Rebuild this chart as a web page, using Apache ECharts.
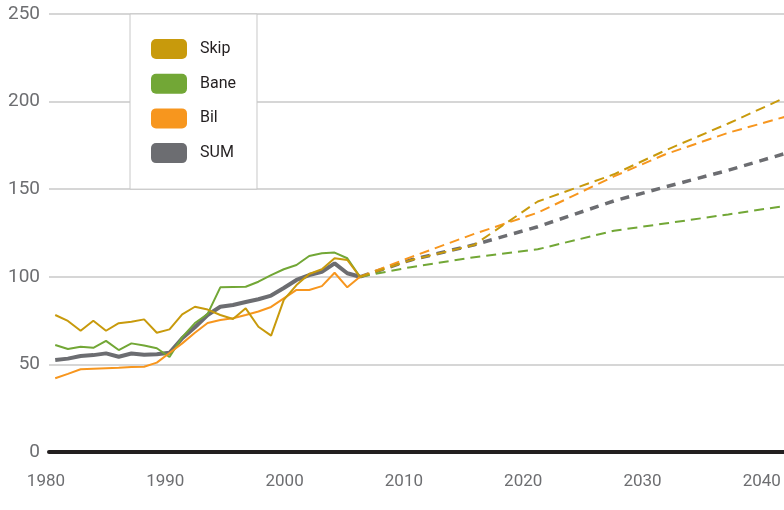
<!DOCTYPE html>
<html>
<head>
<meta charset="utf-8">
<script src="https://cdn.jsdelivr.net/npm/echarts@6/dist/echarts.min.js"></script>
<style>
  html, body { margin: 0; padding: 0; background: #fff; }
  #chart { width: 784px; height: 510px; }
</style>
</head>
<body>
<div id="chart"></div>
<script>
const SERIES_NAMES = ["Skip", "Bane", "Bil", "SUM"];
const COLORS = { Skip: "#c89a0c", Bane: "#72a736", Bil: "#f7961e", SUM: "#6c6d71" };

const HIST_YEARS = [1982, 1983, 1984, 1985, 1986, 1987, 1988, 1989, 1990, 1991, 1992, 1993, 1994,
  1995, 1996, 1997, 1998, 1999, 2000, 2001, 2002, 2003, 2004, 2005, 2006];
const SKIP_HIST = [78.2, 74.8, 69.2, 74.9, 69.2, 73.5, 74.4, 75.7, 68.1, 70.0, 78.6, 82.9, 81.3,
  78.2, 75.9, 82.0, 71.5, 66.4, 86.8, 95.3, 101.6, 104.3, 110.6, 109.6, 100];
const BANE_HIST = [61.1, 58.8, 60.1, 59.5, 63.4, 58.2, 62.0, 60.8, 59.2, 54.2, 65.6, 73.6, 78.8,
  94.0, 94.2, 94.3, 97.2, 101.0, 104.3, 106.7, 111.9, 113.4, 113.8, 110.6, 100];
const BIL_HIST = [42.1, 44.6, 47.2, 47.5, 47.8, 48.1, 48.5, 48.7, 51.0, 56.5, 62.0, 68.1, 73.6,
  75.3, 76.3, 78.2, 80.2, 82.8, 87.7, 92.5, 92.5, 94.7, 102.3, 94.0, 100];
const SUM_HIST = [52.5, 53.3, 54.8, 55.3, 56.3, 54.4, 56.2, 55.5, 55.8, 56.6, 64.9, 71.2, 78.2,
  82.9, 83.9, 85.6, 87.2, 89.3, 93.6, 98.2, 101.0, 102.9, 107.7, 102.0, 100];

const FORECAST_YEARS = [2006, 2010, 2015, 2020, 2026, 2030, 2035, 2040];
const SKIP_FC = [100, 109.5, 118.2, 143.0, 158.5, 172.0, 187.5, 204.0];
const BANE_FC = [100, 105.5, 111.2, 115.7, 126.3, 130.4, 135.6, 141.0];
const BIL_FC = [100, 111.2, 124.5, 136.6, 157.3, 169.8, 182.2, 192.4];
const SUM_FC = [100, 109.6, 118.3, 128.6, 143.3, 151.2, 160.8, 171.5];

const TICK_YEARS = [1980, 1990, 2000, 2010, 2020, 2030, 2040];
const Y_TICKS = [0, 50, 100, 150, 200, 250];

const LABEL_COLOR = "#6d6e71";
const FONT = "Roboto, 'Noto Sans', sans-serif";

const pairs = (xs, ys) => xs.map((x, i) => [x, ys[i]]);

function lineSeries(name, years, values, width, dash) {
  return {
    name,
    type: "line",
    xAxisIndex: 0,
    yAxisIndex: 0,
    data: pairs(years, values),
    symbol: "none",
    silent: true,
    itemStyle: { color: COLORS[name] },
    lineStyle: { color: COLORS[name], width, type: dash || "solid" },
  };
}

const chart = echarts.init(document.getElementById("chart"), null, { renderer: "canvas" });

chart.setOption({
  animation: false,
  backgroundColor: "#fff",
  textStyle: { fontFamily: FONT },
  grid: [
    { left: 49, right: 0, top: 14, bottom: 58, outerBoundsMode: "none" },
    { left: 40, right: 0, top: 14, bottom: 58, outerBoundsMode: "none" },
  ],
  legend: {
    data: SERIES_NAMES,
    orient: "vertical",
    left: 130,
    top: 14,
    backgroundColor: "#fff",
    borderColor: "#c8c8c8",
    borderWidth: 1,
    padding: [25, 21, 26, 21],
    itemWidth: 36,
    itemHeight: 20,
    itemGap: 14.7,
    icon: "roundRect",
    selectedMode: false,
    itemStyle: { borderWidth: 0 },
    textStyle: { fontSize: 16, color: "#231f20", fontFamily: FONT, padding: [0, 0, 0, 8] },
  },
  xAxis: [
    {
      // data axis: yearly spacing as drawn in the source; only its base line shows
      type: "value",
      gridIndex: 0,
      min: 1981.51,
      max: 2039.39,
      axisLine: { lineStyle: { color: "#231f20", width: 4 } },
      axisTick: { show: false },
      axisLabel: { show: false },
      splitLine: { show: false },
    },
    {
      // label axis: the printed decade labels sit on their own scale
      type: "value",
      gridIndex: 1,
      min: 1979.5,
      max: 2041.86,
      axisLine: { show: false },
      axisTick: { show: false },
      splitLine: { show: false },
      axisLabel: {
        customValues: TICK_YEARS,
        formatter: (v) => String(v),
        color: LABEL_COLOR,
        fontSize: 17,
        fontFamily: FONT,
        margin: 21,
      },
    },
  ],
  yAxis: [
    {
      type: "value",
      gridIndex: 0,
      min: 0,
      max: 250,
      interval: 50,
      axisLine: { show: false },
      axisTick: { show: false },
      axisLabel: {
        customValues: Y_TICKS,
        color: LABEL_COLOR,
        fontSize: 19,
        fontFamily: FONT,
        margin: 9,
      },
      splitLine: { lineStyle: { color: "#c8c8c8", width: 1.5 } },
    },
    { type: "value", gridIndex: 1, min: 0, max: 250, show: false },
  ],
  series: [
    lineSeries("SUM", HIST_YEARS, SUM_HIST, 4),
    lineSeries("Bane", HIST_YEARS, BANE_HIST, 2),
    lineSeries("Bil", HIST_YEARS, BIL_HIST, 2),
    lineSeries("Skip", HIST_YEARS, SKIP_HIST, 2),
    lineSeries("SUM", FORECAST_YEARS, SUM_FC, 3.5, [9, 7]),
    lineSeries("Bane", FORECAST_YEARS, BANE_FC, 2, [10, 6]),
    lineSeries("Bil", FORECAST_YEARS, BIL_FC, 2, [10, 6]),
    lineSeries("Skip", FORECAST_YEARS, SKIP_FC, 2, [10, 6]),
  ],
});
</script>
</body>
</html>
